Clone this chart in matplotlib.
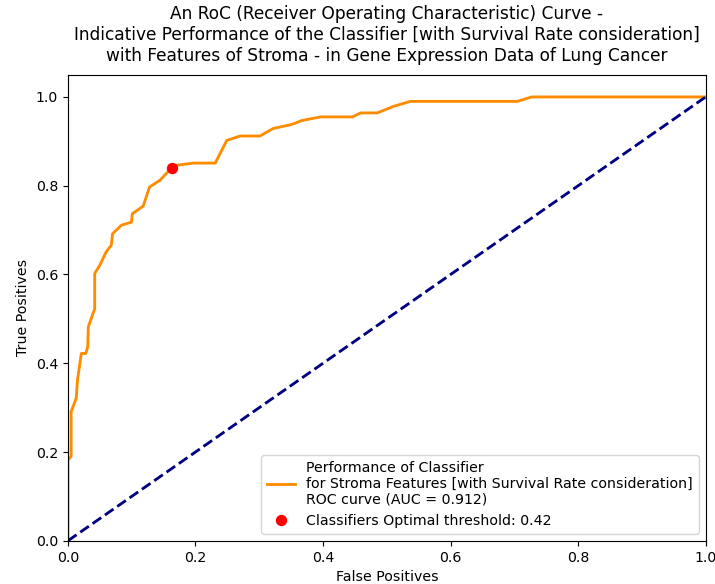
"""RoC curve for the stroma-feature classifier (survival rate considered)."""

import matplotlib

matplotlib.use("Agg")
import matplotlib.pyplot as plt

# curve
FPR = [0.0, 0.0, 0.005, 0.005, 0.013, 0.015, 0.021, 0.028, 0.031, 0.032,
       0.042, 0.042, 0.050, 0.060, 0.068, 0.070, 0.084, 0.0996, 0.101, 0.118,
       0.128, 0.144, 0.1625, 0.170, 0.197, 0.231, 0.249, 0.270, 0.301, 0.322,
       0.351, 0.367, 0.396, 0.446, 0.459, 0.485, 0.511, 0.537, 0.705, 0.727,
       1.0]
TPR = [0.0, 0.182, 0.19, 0.291, 0.321, 0.362, 0.422, 0.422, 0.437, 0.482,
       0.523, 0.602, 0.621, 0.651, 0.666, 0.692, 0.711, 0.718, 0.737, 0.754,
       0.797, 0.812, 0.840, 0.846, 0.851, 0.851, 0.902, 0.912, 0.912, 0.929,
       0.938, 0.947, 0.955, 0.955, 0.964, 0.964, 0.979, 0.990, 0.990, 1.0,
       1.0]
AUC = 0.912
OPT_FPR, OPT_TPR = 0.1625, 0.840
OPT_THRESHOLD = 0.42

DPI = 102


def main() -> None:
    fig, ax = plt.subplots(figsize=(715 / DPI, 584 / DPI), dpi=DPI)
    ax.plot(FPR, TPR, color="darkorange", lw=2,
            label="Performance of Classifier\n"
                  "for Stroma Features [with Survival Rate consideration]\n"
                  f"ROC curve (AUC = {AUC:.3f})")
    ax.plot([0, 1], [0, 1], color="navy", lw=2, linestyle="--")
    ax.plot([OPT_FPR], [OPT_TPR], "o", color="red", markersize=7,
            label=f"Classifiers Optimal threshold: {OPT_THRESHOLD:.2f}")
    ax.set_xlim(0.0, 1.0)
    ax.set_ylim(0.0, 1.05)
    ax.set_xlabel("False Positives")
    ax.set_ylabel("True Positives")
    ax.set_title("An RoC (Receiver Operating Characteristic) Curve -\n"
                 "Indicative Performance of the Classifier [with Survival Rate consideration]\n"
                 "with Features of Stroma - in Gene Expression Data of Lung Cancer",
                 pad=10)
    ax.legend(loc="lower right")
    fig.subplots_adjust(left=0.095, right=0.987, bottom=0.074, top=0.872)
    fig.savefig("out.png", dpi=DPI)


if __name__ == "__main__":
    main()
